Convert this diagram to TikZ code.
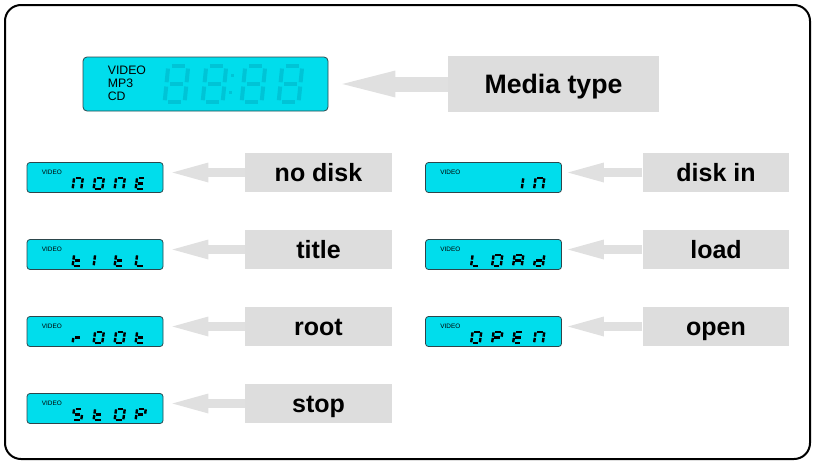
\documentclass[tikz,border=0pt]{standalone}
\usepackage{fontspec}
\setmainfont{Liberation Sans}
\usetikzlibrary{arrows.meta}

\definecolor{lcdcyan}{RGB}{0,221,236}
\definecolor{lcdghost}{RGB}{0,196,214}
\definecolor{lcdedge}{RGB}{45,70,75}
\definecolor{tabgray}{RGB}{221,221,221}
\definecolor{arrowgray}{RGB}{224,224,224}

% segments of one character, unit box 1 wide and 2 high
\def\lcdsega{(0.18,2)--(0.82,2)}
\def\lcdsegb{(1,1.88)--(1,1.12)}
\def\lcdsegc{(1,0.88)--(1,0.12)}
\def\lcdsegd{(0.18,0)--(0.82,0)}
\def\lcdsege{(0,0.88)--(0,0.12)}
\def\lcdsegf{(0,1.88)--(0,1.12)}
\def\lcdsegg{(0.18,1)--(0.82,1)}

\newcommand{\lcdshow}[3]{%
  \foreach \lcdpos/\lcdsegs in {#3} {%
    \begin{scope}[shift={(#1.south west)}, shift={(\lcdpos,0)}, #2]
      \foreach \s in \lcdsegs {\edef\segpath{\csname lcdseg\s\endcsname}\draw \segpath;}
    \end{scope}}}

\tikzset{
    frame/.style={draw, line width=1.5pt, rounded corners=12pt},
    lcd/.style={draw=lcdedge, fill=lcdcyan, line width=0.6pt, rounded corners=2.25pt,
                inner sep=0pt, minimum width=102pt, minimum height=22.5pt},
    biglcd/.style={lcd, minimum width=183.75pt, minimum height=40.5pt, rounded corners=3pt},
    tag/.style={font=\fontsize{4.8}{5}\selectfont, inner sep=0pt, anchor=west},
    bigtag/.style={font=\fontsize{9.2}{9.75}\selectfont, align=left, inner sep=0pt, anchor=north west},
    tab/.style={fill=tabgray, inner sep=0pt, minimum width=110pt, minimum height=29.25pt,
                text height=13.5pt, text depth=0pt, font=\fontsize{18.75}{20}\selectfont\bfseries},
    bigtab/.style={tab, minimum width=158.25pt, minimum height=42pt, text height=14.4pt,
                   font=\fontsize{20}{22}\selectfont\bfseries},
    flow/.style={draw=arrowgray, line width=6.75pt,
                 -{Triangle[length=27pt, width=15pt, line width=0pt]}, shorten >=6.75pt},
    bigflow/.style={flow, line width=11.25pt,
                    -{Triangle[length=39.75pt, width=20.25pt, line width=0pt]}, shorten >=10.5pt},
    smalldigit/.style={shift={(1,-4)}, x=6.5pt, y=4.2pt, xslant=0.14, line width=1.8pt, black},
    bigdigit/.style={shift={(0,-9)}, x=15pt, y=13.5pt, xslant=0.1, line width=3pt, lcdghost},
}

\begin{document}
\begin{tikzpicture}[x=0.75pt, y=-0.75pt]

    \useasboundingbox (0,0) rectangle (814,461);
    \draw[frame] (5,5) rectangle (810,459);

    % media type display
    \node[biglcd] (bigscreen) at (205.5,84) {};
    \node[bigtag] (bigmodes) at ([shift={(25,9)}]bigscreen.north west) {VIDEO\\MP3\\CD};
    \lcdshow{bigscreen}{bigdigit}{82/{a,b,c,d,e,f,g}, 120/{a,b,c,d,e,f,g},
                                  159/{a,b,c,d,e,f,g}, 196/{a,b,c,d,e,f,g}}
    \fill[lcdghost] ([shift={(148,17)}]bigscreen.north west) rectangle ++(3,3);
    \fill[lcdghost] ([shift={(146,34)}]bigscreen.north west) rectangle ++(3,3);
    \node[bigtab] (mediatype) at (553.5,84) {Media type};
    \draw[bigflow] (mediatype.west) -- (mediatype.west -| bigscreen.east);

    % left column
    \node[lcd] (lcdnone) at (95,177.5) {};
    \node[lcd] (lcdtitl) at (95,254.5) {};
    \node[lcd] (lcdroot) at (95,331.5) {};
    \node[lcd] (lcdstop) at (95,408.5) {};
    \node[tab] (nodisk) at (318.5,172.5) {no disk};
    \node[tab] (title) at (318.5,249.5) {title};
    \node[tab] (root) at (318.5,326.5) {root};
    \node[tab] (stop) at (318.5,403.5) {stop};

    % right column
    \node[lcd] (lcdin) at (493.5,177.5) {};
    \node[lcd] (lcdload) at (493.5,254.5) {};
    \node[lcd] (lcdopen) at (493.5,331.5) {};
    \node[tab] (diskin) at (716,172.5) {disk in};
    \node[tab] (load) at (716,249.5) {load};
    \node[tab] (open) at (716,326.5) {open};

    \foreach \scr in {none,titl,root,stop,in,load,open}
        \node[tag] (tag\scr) at ([shift={(15,10)}]lcd\scr.north west) {VIDEO};

    \lcdshow{lcdnone}{smalldigit}{45/{a,b,c,e,f}, 66/{a,b,c,d,e,f}, 87/{a,b,c,e,f}, 108/{a,d,e,f,g}}
    \lcdshow{lcdtitl}{smalldigit}{45/{d,e,f,g}, 66/{e,f}, 87/{d,e,f,g}, 108/{d,e,f}}
    \lcdshow{lcdroot}{smalldigit}{45/{e,g}, 66/{a,b,c,d,e,f}, 87/{a,b,c,d,e,f}, 108/{d,e,f,g}}
    \lcdshow{lcdstop}{smalldigit}{45/{a,c,d,f,g}, 66/{d,e,f,g}, 87/{a,b,c,d,e,f}, 108/{a,b,e,f,g}}
    \lcdshow{lcdin}{smalldigit}{87/{b,c}, 108/{a,b,c,e,f}}
    \lcdshow{lcdload}{smalldigit}{45/{d,e,f}, 66/{a,b,c,d,e,f}, 87/{a,b,c,e,f,g}, 108/{b,c,d,e,g}}
    \lcdshow{lcdopen}{smalldigit}{45/{a,b,c,d,e,f}, 66/{a,b,e,f,g}, 87/{a,d,e,f,g}, 108/{a,b,c,e,f}}

    \draw[flow] (nodisk.west) -- (nodisk.west -| lcdnone.east);
    \draw[flow] (title.west) -- (title.west -| lcdtitl.east);
    \draw[flow] (root.west) -- (root.west -| lcdroot.east);
    \draw[flow] (stop.west) -- (stop.west -| lcdstop.east);
    \draw[flow, shorten >=4.5pt] (diskin.west) -- (diskin.west -| lcdin.east);
    \draw[flow, shorten >=4.5pt] (load.west) -- (load.west -| lcdload.east);
    \draw[flow, shorten >=4.5pt] (open.west) -- (open.west -| lcdopen.east);

\end{tikzpicture}
\end{document}
